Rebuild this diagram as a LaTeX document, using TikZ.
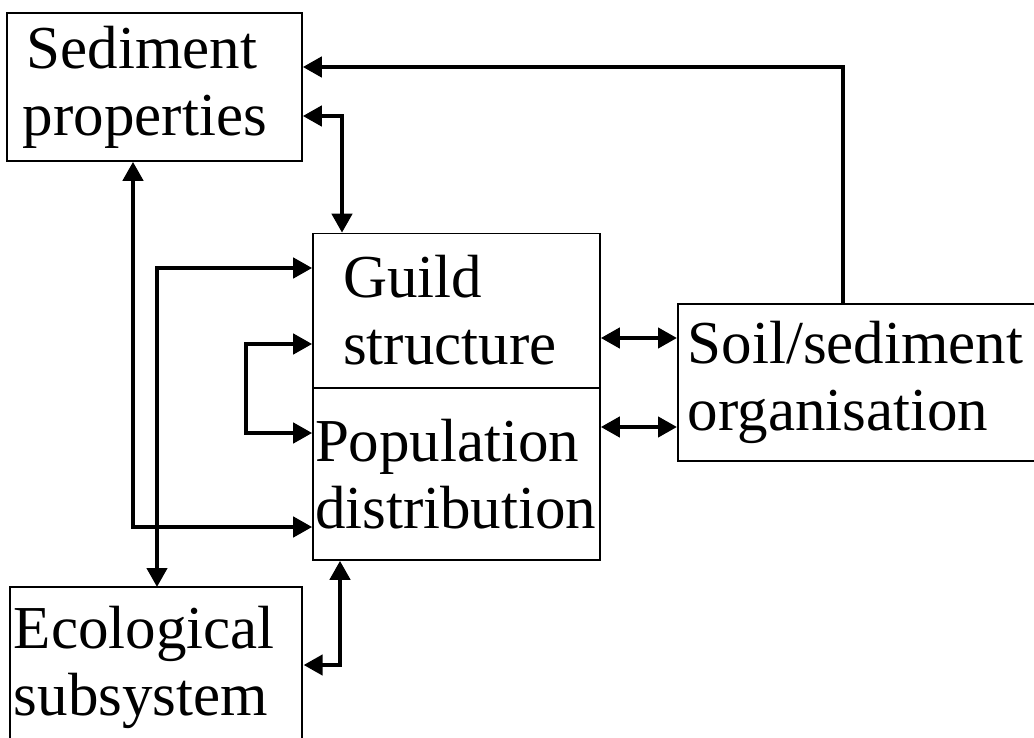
\documentclass[tikz,border=0pt]{standalone}
\usepackage{fontspec}
\setmainfont{Liberation Serif}
\usetikzlibrary{arrows.meta}

\tikzset{
  box/.style={draw, line width=1.6pt, inner ysep=0pt, font=\fontsize{61}{67}\selectfont},
  boxline/.style={line width=1.6pt},
  link/.style={line width=4.3pt, {Triangle[length=19pt,width=20pt]}-{Triangle[length=19pt,width=20pt]}},
  linkto/.style={line width=4.3pt, -{Triangle[length=19pt,width=20pt]}}
}

\begin{document}
\begin{tikzpicture}[x=1pt,y=-1pt]
        \useasboundingbox (0,0) rectangle (1034,738);

        % Boxes
        \node[box, align=left, text width=263, inner xsep=16, minimum height=148] (sed) at (154.5,87) {\hspace*{4pt}Sediment\\properties};
        \node[box, align=left, text width=227, inner xsep=30, minimum height=154] (guild) at (456.5,310.5) {Guild\\structure};
        \node[box, align=left, text width=283, inner xsep=2, minimum height=172] (pop) at (456.5,474) {Population\\distribution};
        \node[box, align=left, text width=360, inner xsep=10, minimum height=157, anchor=north west] (soil) at (677,303) {Soil/sediment\\organisation};
        \node[box, draw=none, align=left, text width=286, inner xsep=3, inner ysep=18, anchor=north west] (eco) at (10,587) {Ecological\\subsystem};
        \draw[boxline] (eco.north west) rectangle ++(292,180);

        % Feedback from soil organisation to sediment
        \coordinate (c1) at (843,67);
        \draw[linkto] (c1 |- soil.north) -- (c1) -- (c1 -| sed.east);

        % Sediment links
        \coordinate (c2) at (342,116);
        \draw[link] (c2 -| sed.east) -- (c2) -- (c2 |- guild.north);
        \coordinate (c3) at (133,527);
        \draw[link] (c3 |- sed.south) -- (c3) -- (c3 -| pop.west);

        % Ecological subsystem links
        \coordinate (c4) at (157,268);
        \draw[link] (c4 -| guild.west) -- (c4) -- (c4 |- eco.north);
        \coordinate (c7) at (340,665);
        \draw[link] (c7 -| eco.east) -- (c7) -- (c7 |- pop.south);

        % Guild <-> population loop
        \coordinate (c5) at (246,344);
        \coordinate (c6) at (246,433);
        \draw[link] (c5 -| guild.west) -- (c5) -- (c6) -- (c6 -| pop.west);

        % Links to soil/sediment organisation
        \coordinate (c8) at (640,338);
        \coordinate (c9) at (640,427);
        \draw[link] (c8 -| guild.east) -- (c8 -| soil.west);
        \draw[link] (c9 -| pop.east) -- (c9 -| soil.west);
    \end{tikzpicture}
\end{document}
